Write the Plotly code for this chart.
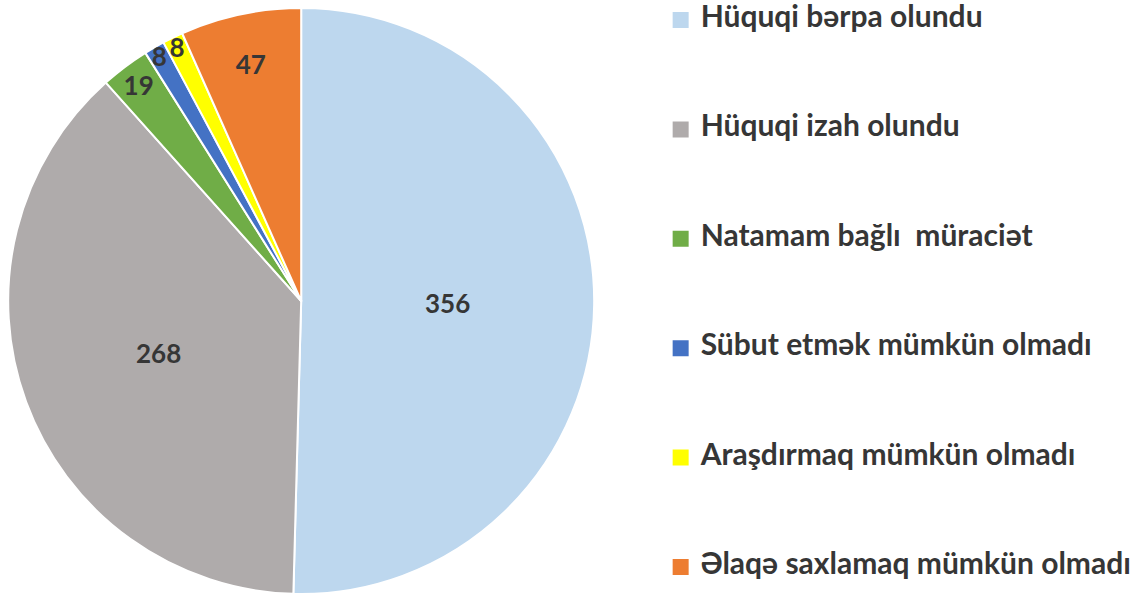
import plotly.graph_objects as go

labels = [
    "Hüquqi bərpa olundu",
    "Hüquqi izah olundu",
    "Natamam bağlı  müraciət",
    "Sübut etmək mümkün olmadı",
    "Araşdırmaq mümkün olmadı",
    "Əlaqə saxlamaq mümkün olmadı",
]
values = [356, 268, 19, 8, 8, 47]
colors = ["#BDD7EE", "#AFABAB", "#70AD47", "#4472C4", "#FFFF00", "#ED7D31"]

FONT = "Lato"
TEXT_COLOR = "#363636"

fig = go.Figure()

fig.add_trace(go.Pie(
    labels=labels,
    values=values,
    sort=False,
    direction="clockwise",
    rotation=0,
    marker=dict(colors=colors, line=dict(color="white", width=2)),
    textinfo="value",
    textposition="inside",
    insidetextorientation="horizontal",
    textfont=dict(family=FONT, size=26, color=TEXT_COLOR, weight="bold"),
    showlegend=False,
    hoverinfo="label+value",
    domain=dict(x=[0.007, 0.52], y=[0.0034, 0.9866]),
))

# legend entries, one group each so the gap between them can be set.
# small base font keeps the legend rows short, the span makes the text big
for lab, col in zip(labels, colors):
    fig.add_trace(go.Scatter(
        x=[None], y=[None],
        mode="markers",
        marker=dict(symbol="square", size=16, color=col),
        name=f'<span style="font-size:30px">{lab}</span>',
        legendgroup=lab,
        showlegend=True,
    ))

fig.update_layout(
    width=1143,
    height=596,
    margin=dict(l=0, r=0, t=0, b=0, autoexpand=False),
    paper_bgcolor="white",
    plot_bgcolor="white",
    xaxis=dict(visible=False, domain=[0.99, 1]),
    yaxis=dict(visible=False),
    uniformtext=dict(minsize=26, mode="show"),
    legend=dict(
        x=0.578, y=0.997,
        xanchor="left", yanchor="top",
        traceorder="grouped",
        tracegroupgap=83,
        maxheight=800,
        font=dict(family=FONT, size=18, color=TEXT_COLOR, weight="bold"),
        bgcolor="rgba(0,0,0,0)",
        itemclick=False,
    ),
)

fig.write_html(
    "out.html",
    config={"displayModeBar": False},
    post_script="document.body.style.margin='0';",
)
